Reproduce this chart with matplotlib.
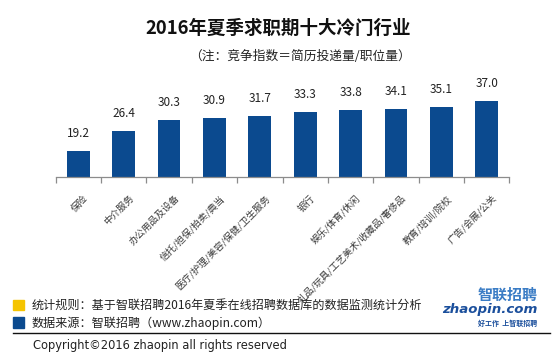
import matplotlib
matplotlib.use("Agg")
import matplotlib.pyplot as plt
import matplotlib.transforms as mtransforms
from matplotlib.patches import Rectangle
from matplotlib.lines import Line2D

plt.rcParams['font.family'] = ['Noto Sans CJK SC', 'DejaVu Sans']

categories = ["保险", "中介服务", "办公用品及设备", "信托/担保/拍卖/典当",
              "医疗/护理/美容/保健/卫生服务", "银行", "娱乐/体育/休闲",
              "礼品/玩具/工艺美术/收藏品/奢侈品", "教育/培训/院校", "广告/会展/公关"]
values = [19.2, 26.4, 30.3, 30.9, 31.7, 33.3, 33.8, 34.1, 35.1, 37.0]

title = "2016年夏季求职期十大冷门行业"
subtitle = "（注：竞争指数＝简历投递量/职位量）"
note1 = "统计规则：基于智联招聘2016年夏季在线招聘数据库的数据监测统计分析"
note2 = "数据来源：智联招聘（www.zhaopin.com）"
copyright_text = "Copyright©2016 zhaopin all rights reserved"

W, H = 558, 361
fig = plt.figure(figsize=(W / 100, H / 100), dpi=100)

def fx(px):
    return px / W

def fy(py):
    return 1 - py / H

bar_color = "#0b4a8f"
ax = fig.add_axes([fx(55.7), fy(176.7), fx(509.3) - fx(55.7), fy(93) - fy(176.7)])
x = list(range(len(categories)))
bars = ax.bar(x, values, width=0.5, color=bar_color)
ax.set_xlim(-0.5, len(categories) - 0.5)
ax.set_ylim(10, 40)

for xi, v in zip(x, values):
    ax.annotate(f"{v:.1f}", xy=(xi, v), xytext=(0, 8), textcoords="offset points",
                ha="center", va="bottom", fontsize=8.5, color="#222222")

for s in ["top", "right", "left"]:
    ax.spines[s].set_visible(False)
ax.spines["bottom"].set_color("#8c8c8c")
ax.spines["bottom"].set_linewidth(0.9)
ax.set_yticks([])

ax.set_xticks([i - 0.5 for i in range(len(categories) + 1)], minor=True)
ax.tick_params(axis="x", which="minor", length=4, color="#8c8c8c", width=0.9, direction="out")
ax.set_xticks(x)
ax.set_xticklabels(categories, rotation=45, ha="right", rotation_mode="anchor",
                   fontsize=6.8, color="#3a3a3a")
ax.tick_params(axis="x", which="major", length=0, pad=12)
offset = mtransforms.ScaledTranslation(5 / 100, 0, fig.dpi_scale_trans)
for lbl in ax.get_xticklabels():
    lbl.set_transform(lbl.get_transform() + offset)

fig.text(fx(278), fy(28), title, ha="center", va="center", fontsize=13.3,
         fontweight="bold", color="#111111")
fig.text(fx(300), fy(56.7), subtitle, ha="center", va="center", fontsize=9.2, color="#222222")

fig.patches.append(Rectangle((fx(12.7), fy(310)), fx(11.3), fy(300) - fy(310),
                             transform=fig.transFigure, color="#f5c400"))
fig.patches.append(Rectangle((fx(12.7), fy(327.7)), fx(11.3), fy(317) - fy(327.7),
                             transform=fig.transFigure, color="#0b4a8f"))
fig.text(fx(31.7), fy(305), note1, ha="left", va="center", fontsize=8.7, color="#222222")
fig.text(fx(31.7), fy(323), note2, ha="left", va="center", fontsize=8.7, color="#222222")
fig.lines.append(Line2D([fx(13), fx(550)], [fy(332.7), fy(332.7)],
                        transform=fig.transFigure, color="#111111", lw=1))
fig.text(fx(33), fy(345), copyright_text, ha="left", va="center", fontsize=8.3,
         color="#222222", family=["DejaVu Sans"])

# logo
fig.text(fx(538), fy(295), "智联招聘", ha="right", va="center", fontsize=10.8,
         fontweight="bold", style="italic", color="#3a7cc5")
fig.text(fx(538), fy(310), "zhaopin.com", ha="right", va="center", fontsize=9.6,
         fontweight="bold", style="italic", color="#1b4f9c", family=["DejaVu Sans"])
fig.text(fx(537), fy(323), "好工作  上智联招聘", ha="right", va="center", fontsize=5,
         fontweight="bold", color="#1b4f9c")

fig.savefig("out.png", dpi=100)
